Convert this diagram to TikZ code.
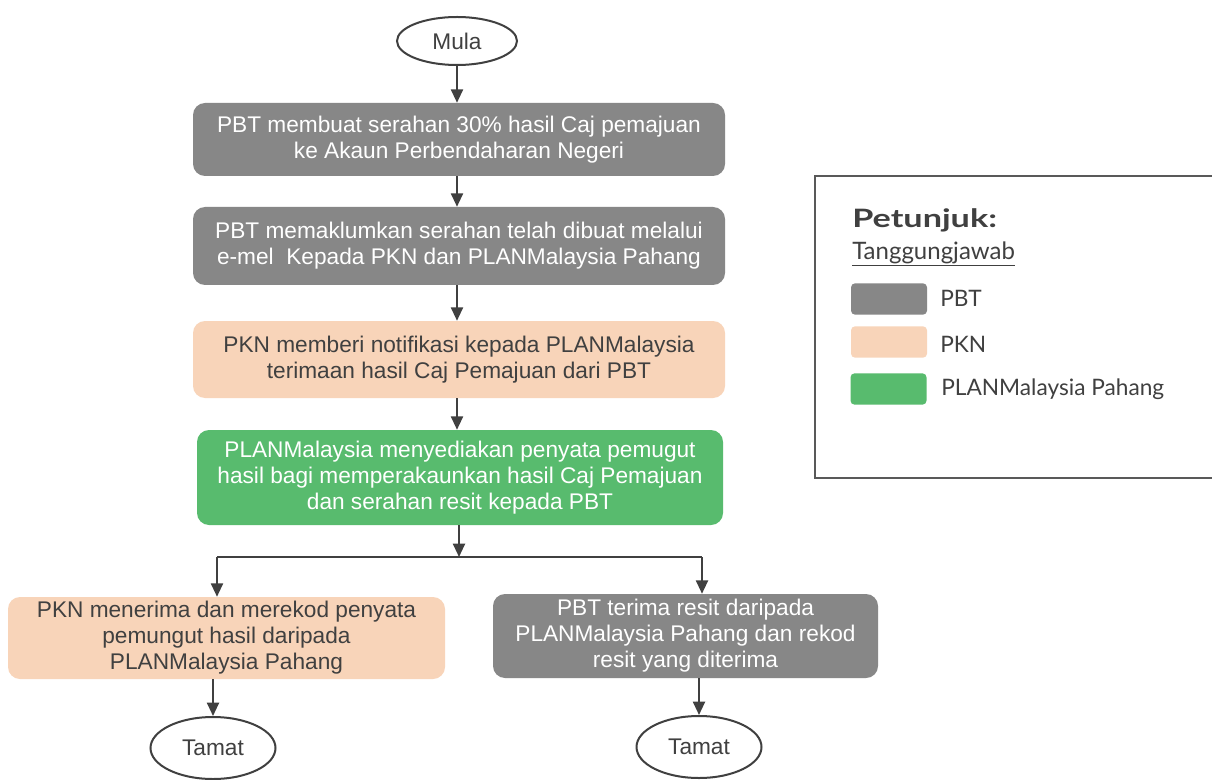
\documentclass[tikz,border=0pt]{standalone}
\usepackage{fontspec}
\setmainfont{Liberation Sans}
\newfontfamily\legendfont{Lato}
\newfontfamily\legendbold{Lato}[FakeStretch=1.35]
\usetikzlibrary{arrows.meta,shapes.geometric}
\definecolor{boxgray}{HTML}{878787}
\definecolor{peach}{HTML}{F8D4B9}
\definecolor{grn}{HTML}{58BB6E}
\definecolor{dark}{HTML}{404040}
\definecolor{legline}{HTML}{595959}
\tikzset{
  flowbox/.style={rounded corners=9pt, align=center, inner sep=2pt,
    font=\fontsize{17}{19.5}\selectfont},
  graybox/.style={flowbox, fill=boxgray, text=white},
  peachbox/.style={flowbox, fill=peach, text=dark},
  greenbox/.style={flowbox, fill=grn, text=white},
  terminal/.style={ellipse, draw=dark, line width=1.5pt, text=dark,
    font=\fontsize{17}{19.5}\selectfont, inner sep=0pt},
  arr/.style={draw=dark, line width=1.5pt, -{Triangle[length=10pt,width=9pt]}},
  plain/.style={draw=dark, line width=1.2pt},
  swatch/.style={rounded corners=3pt, minimum width=57pt, minimum height=23.5pt, inner sep=0pt},
  legtext/.style={anchor=west, text=dark, inner sep=0pt, font=\legendfont\fontsize{17}{20}\selectfont}
}
\begin{document}
\begin{tikzpicture}[x=0.75pt,y=-0.75pt]
\useasboundingbox (0,0) rectangle (1212,780);
\fill[white] (0,0) rectangle (1212,780);

% start
\node[terminal, minimum width=90pt, minimum height=36pt] (mula) at (457,41) {Mula};

% boxes
\node[graybox, minimum width=399pt, minimum height=54.75pt] (b1) at (459,139.5)
  {PBT membuat serahan 30\% hasil Caj pemajuan\\ke Akaun Perbendaharan Negeri};
\node[graybox, minimum width=399pt, minimum height=58.5pt] (b2) at (459,246)
  {PBT memaklumkan serahan telah dibuat melalui\\e-mel\ \ Kepada PKN dan PLANMalaysia Pahang};
\node[peachbox, minimum width=399pt, minimum height=57.75pt] (b3) at (459,359.5)
  {PKN memberi notifikasi kepada PLANMalaysia\\terimaan hasil Caj Pemajuan dari PBT};
\node[greenbox, minimum width=394.5pt, minimum height=71.25pt] (b4) at (460,477.5)
  {PLANMalaysia menyediakan penyata pemugut\\hasil bagi memperakaunkan hasil Caj Pemajuan\\dan serahan resit kepada PBT};
\node[peachbox, minimum width=327.75pt, minimum height=61.5pt] (b5) at (226.5,638)
  {PKN menerima dan merekod penyata\\pemungut hasil daripada\\PLANMalaysia Pahang};
\node[graybox, minimum width=288.75pt, minimum height=63pt] (b6) at (685.5,636)
  {PBT terima resit daripada\\PLANMalaysia Pahang dan rekod\\resit yang diterima};

% ends
\node[terminal, minimum width=93.75pt, minimum height=46.5pt] (t1) at (213,748) {Tamat};
\node[terminal, minimum width=93.75pt, minimum height=46.5pt] (t2) at (699,747) {Tamat};

% connectors
\draw[arr] (mula.south) -- (mula.south |- b1.north);
\draw[arr] (b1.south -| mula) -- (mula |- b2.north);
\draw[arr] (b2.south -| mula) -- (mula |- b3.north);
\draw[arr] (b3.south -| mula) -- (mula |- b4.north);
\coordinate (split) at (459,557);
\coordinate (sl) at (217,557);
\coordinate (sr) at (702,557);
\draw[arr] (b4.south -| split) -- (split);
\draw[plain] (sl) -- (sr);
\draw[arr] (sl) -- (sl |- b5.north);
\draw[arr] (sr) -- (sr |- b6.north);
\draw[arr] (b5.south -| t1) -- (t1.north);
\draw[arr] (b6.south -| t2) -- (t2.north);

% legend
\draw[legline, line width=1.5pt] (815,176) rectangle (1216,478);
\node[legtext, font=\legendbold\bfseries\fontsize{19}{22}\selectfont] (ptj) at (852,220) {Petunjuk:};
\node[legtext, font=\legendfont\fontsize{18}{21}\selectfont] (tgj) at (852,254) {\underline{Tanggungjawab}};
\node[swatch, fill=boxgray] (s1) at (889,299) {};
\node[swatch, fill=peach] (s2) at (889,342) {};
\node[swatch, fill=grn] (s3) at (888.5,389) {};
\node[legtext] (l1) at (940,298) {PBT};
\node[legtext] (l2) at (940,344) {PKN};
\node[legtext] (l3) at (941,389) {PLANMalaysia Pahang};
\end{tikzpicture}
\end{document}
